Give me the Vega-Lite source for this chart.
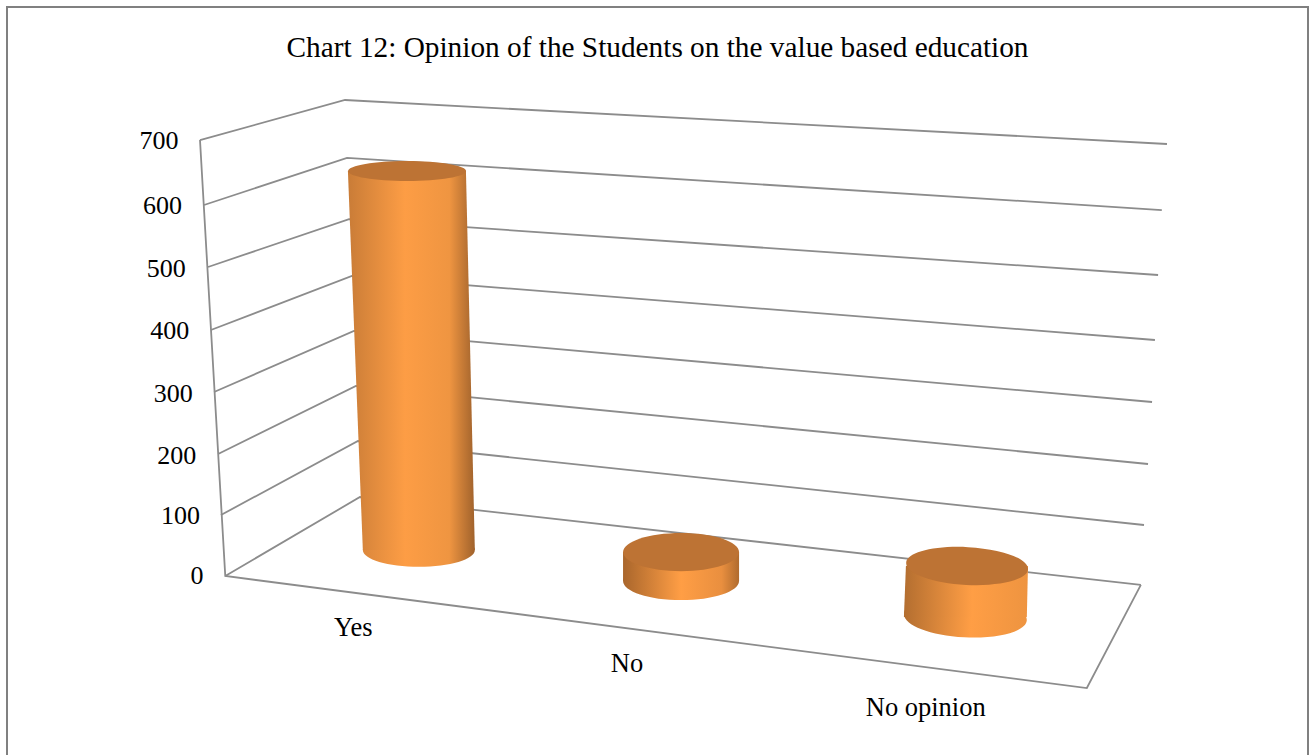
{"$schema":"https://vega.github.io/schema/vega-lite/v6.json","width":1301,"height":748,"autosize":{"type":"none"},"padding":{"left":7,"top":7,"right":2,"bottom":0},"background":"white","config":{"view":{"stroke":null},"font":"Liberation Serif"},"title":{"text":"Chart 12: Opinion of the Students on the value based education","font":"Liberation Serif","fontSize":29.3,"fontWeight":"normal","color":"#000000","anchor":"middle","frame":"group","baseline":"alphabetic","offset":-83},"datasets":{"frame":[{"seq":0,"position":-0.76,"level":-289},{"seq":1,"position":-0.76,"level":915},{"seq":2,"position":3.77,"level":915},{"seq":3,"position":3.77,"level":-289}],"grid":[{"line":"700","seq":0,"position":-0.088,"level":700.9},{"line":"700","seq":1,"position":0.417,"level":765.3},{"line":"700","seq":2,"position":3.279,"level":694.5},{"line":"600","seq":0,"position":-0.074,"level":596.3},{"line":"600","seq":1,"position":0.424,"level":672},{"line":"600","seq":2,"position":3.261,"level":588.2},{"line":"500","seq":0,"position":-0.06,"level":496.5},{"line":"500","seq":1,"position":0.431,"level":573.7},{"line":"500","seq":2,"position":3.248,"level":483.6},{"line":"400","seq":0,"position":-0.05,"level":395.1},{"line":"400","seq":1,"position":0.441,"level":482},{"line":"400","seq":2,"position":3.237,"level":379},{"line":"300","seq":0,"position":-0.039,"level":295.3},{"line":"300","seq":1,"position":0.448,"level":393.5},{"line":"300","seq":2,"position":3.227,"level":279.2},{"line":"200","seq":0,"position":-0.025,"level":195.5},{"line":"200","seq":1,"position":0.455,"level":304.9},{"line":"200","seq":2,"position":3.213,"level":179.4},{"line":"100","seq":0,"position":-0.015,"level":97.3},{"line":"100","seq":1,"position":0.462,"level":216.4},{"line":"100","seq":2,"position":3.199,"level":81.2},{"line":"0","seq":0,"position":0,"level":-0.9},{"line":"0","seq":1,"position":0.469,"level":126.3},{"line":"0","seq":2,"position":3.188,"level":-15.2},{"line":"axis","seq":0,"position":-0.088,"level":700.9},{"line":"axis","seq":1,"position":0,"level":-0.9},{"line":"axis","seq":2,"position":3,"level":-181.2},{"line":"axis","seq":3,"position":3.188,"level":-15.2}],"cylinders":[{"category":"Yes","students":610,"end":"base","position":0.674,"left":0.479,"right":0.869,"level":41},{"category":"Yes","students":610,"end":"top","position":0.633,"left":0.427,"right":0.838,"level":651},{"category":"No","students":45,"end":"base","position":1.587,"left":1.385,"right":1.789,"level":-8.9},{"category":"No","students":45,"end":"top","position":1.587,"left":1.385,"right":1.789,"level":37.7},{"category":"No opinion","students":80,"end":"base","position":2.577,"left":2.363,"right":2.791,"level":-66.9},{"category":"No opinion","students":80,"end":"top","position":2.583,"left":2.37,"right":2.795,"level":15.2}],"labels":[{"category":"Yes","position":0.446,"level":-84},{"category":"No","position":1.399,"level":-142},{"category":"No opinion","position":2.439,"level":-213}]},"encoding":{"x":{"field":"position","type":"quantitative","title":null,"scale":{"domain":[-0.76,3.77],"nice":false,"zero":false},"axis":null},"y":{"field":"level","type":"quantitative","title":null,"scale":{"domain":[-289,915],"nice":false,"zero":false},"axis":{"values":[0,100,200,300,400,500,600,700],"domain":false,"ticks":false,"grid":false,"labelPadding":0,"offset":-171,"labelFont":"Liberation Serif","labelFontSize":26,"labelColor":"#000000","encoding":{"labels":{"dx":{"value":{"expr":"(700-datum.value)*0.0357"}},"dy":{"value":{"expr":"datum.value==0||datum.value==700?0:datum.value==100?2:datum.value==600?3:4"}}}}}}},"layer":[{"data":{"name":"frame"},"mark":{"type":"line","stroke":"#808080","strokeWidth":2,"strokeCap":"square"},"encoding":{"order":{"field":"seq"}}},{"data":{"name":"grid"},"mark":{"type":"line","stroke":"#8c8c8c","strokeWidth":1.8,"strokeJoin":"miter"},"encoding":{"detail":{"field":"line"},"order":{"field":"seq"}}},{"data":{"name":"cylinders"},"transform":[{"filter":"datum.category==='Yes'&&datum.end==='base'"}],"mark":{"type":"point","filled":true,"shape":"M-1,0A1,0.3 0 1,0 1,0A1,0.3 0 1,0 -1,0Z","size":12544,"opacity":1,"fill":{"gradient":"linear","x1":0,"y1":0,"x2":1,"y2":0,"stops":[{"offset":0,"color":"#dc883c"},{"offset":0.38,"color":"#fd9d45"},{"offset":0.77,"color":"#ef9541"},{"offset":1,"color":"#a0622c"}]}}},{"data":{"name":"cylinders"},"transform":[{"filter":"datum.category==='Yes'"}],"mark":{"type":"area","orient":"horizontal","fill":{"gradient":"linear","x1":0,"y1":0,"x2":1,"y2":0,"stops":[{"offset":0,"color":"#c97c37"},{"offset":0.45,"color":"#fd9d45"},{"offset":0.8,"color":"#ef9541"},{"offset":1,"color":"#a0622c"}]}},"encoding":{"x":{"field":"left","type":"quantitative"},"x2":{"field":"right"}}},{"data":{"name":"cylinders"},"transform":[{"filter":"datum.category==='Yes'&&datum.end==='top'"}],"mark":{"type":"point","filled":true,"shape":"M-1,0A1,0.17 0 1,0 1,0A1,0.17 0 1,0 -1,0Z","size":13924,"opacity":1,"fill":"#bd7334"}},{"data":{"name":"cylinders"},"transform":[{"filter":"datum.category==='No'&&datum.end==='base'"}],"mark":{"type":"point","filled":true,"shape":"M-1,0A1,0.33 0 1,0 1,0A1,0.33 0 1,0 -1,0Z","size":13456,"opacity":1,"fill":{"gradient":"linear","x1":0,"y1":0,"x2":1,"y2":0,"stops":[{"offset":0,"color":"#a9662c"},{"offset":0.5,"color":"#ff9e45"},{"offset":0.85,"color":"#e98f3f"},{"offset":1,"color":"#b06b2e"}]}}},{"data":{"name":"cylinders"},"transform":[{"filter":"datum.category==='No'"}],"mark":{"type":"area","orient":"horizontal","fill":{"gradient":"linear","x1":0,"y1":0,"x2":1,"y2":0,"stops":[{"offset":0,"color":"#a9662c"},{"offset":0.5,"color":"#ff9e45"},{"offset":0.85,"color":"#e98f3f"},{"offset":1,"color":"#b06b2e"}]}},"encoding":{"x":{"field":"left","type":"quantitative"},"x2":{"field":"right"}}},{"data":{"name":"cylinders"},"transform":[{"filter":"datum.category==='No'&&datum.end==='top'"}],"mark":{"type":"point","filled":true,"shape":"M-1,0A1,0.33 0 1,0 1,0A1,0.33 0 1,0 -1,0Z","size":13456,"opacity":1,"fill":"#bd7334"}},{"data":{"name":"cylinders"},"transform":[{"filter":"datum.category==='No opinion'&&datum.end==='base'"}],"mark":{"type":"point","filled":true,"angle":3,"shape":"M-1,0A1,0.33 0 1,0 1,0A1,0.33 0 1,0 -1,0Z","size":15129,"opacity":1,"fill":{"gradient":"linear","x1":0,"y1":0,"x2":1,"y2":0,"stops":[{"offset":0,"color":"#b36e30"},{"offset":0.55,"color":"#ff9e45"},{"offset":1,"color":"#ee9440"}]}}},{"data":{"name":"cylinders"},"transform":[{"filter":"datum.category==='No opinion'"}],"mark":{"type":"area","orient":"horizontal","fill":{"gradient":"linear","x1":0,"y1":0,"x2":1,"y2":0,"stops":[{"offset":0,"color":"#b36e30"},{"offset":0.55,"color":"#ff9e45"},{"offset":1,"color":"#ee9440"}]}},"encoding":{"x":{"field":"left","type":"quantitative"},"x2":{"field":"right"}}},{"data":{"name":"cylinders"},"transform":[{"filter":"datum.category==='No opinion'&&datum.end==='top'"}],"mark":{"type":"point","filled":true,"angle":3,"shape":"M-1,0A1,0.31 0 1,0 1,0A1,0.31 0 1,0 -1,0Z","size":14884,"opacity":1,"fill":"#bd7334"}},{"data":{"name":"labels"},"mark":{"type":"text","font":"Liberation Serif","fontSize":26.5,"color":"#000000"},"encoding":{"text":{"field":"category"}}}]}
